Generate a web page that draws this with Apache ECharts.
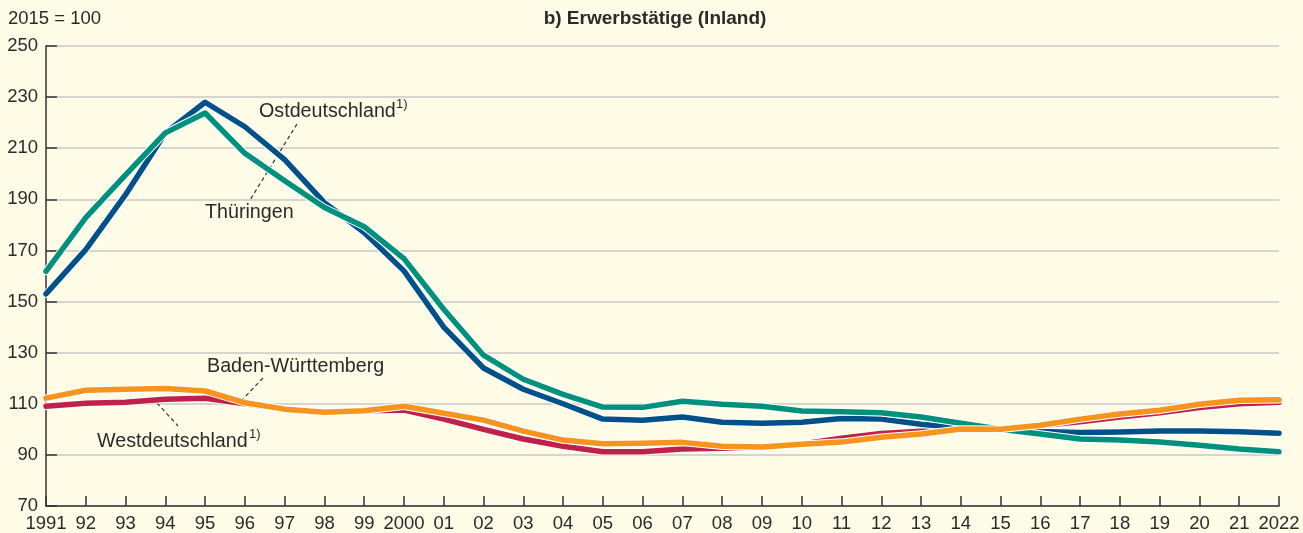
<!DOCTYPE html>
<html>
<head>
<meta charset="utf-8">
<script src="https://cdn.jsdelivr.net/npm/echarts@6/dist/echarts.min.js"></script>
<style>
html,body{margin:0;padding:0;background:#FEFCE7;}
#c{width:1303px;height:533px;}
</style>
</head>
<body>
<div id="c"></div>
<script>
const years = ['1991','92','93','94','95','96','97','98','99','2000','01','02','03','04','05','06','07','08','09','10','11','12','13','14','15','16','17','18','19','20','21','2022'];
const ostdeutschland = [153,170.3,191.8,216,228,218.4,205.5,188.7,177,162,140,124,115.7,110,104,103.6,104.8,102.8,102.4,102.8,104.2,104,102,100.5,100,99.2,98.8,99,99.3,99.3,99.1,98.5];
const thueringen = [161.8,182.8,199.6,216,223.8,208,197.3,186.8,179.3,166.8,147,129,119.6,113.7,108.7,108.6,111,109.8,109,107.2,106.9,106.5,104.8,102.4,100,98.2,96.2,95.8,95,93.8,92.3,91.2];
const badenWuerttemberg = [112.2,115.3,115.7,116,115,110.4,107.9,106.7,107.3,109,106.3,103.6,99.3,95.8,94.4,94.6,94.9,93.4,93.1,94.2,95,96.9,98.2,100.1,100,101.6,104,106,107.5,109.8,111.4,111.6];
const westdeutschland = [109,110.2,110.6,111.8,112.2,110,107.9,106.7,107.3,107.5,104,100,96.2,93.4,91.2,91.2,92.3,92.6,93.2,94.3,96.5,98.4,99.3,100.3,100,101.5,103,104.8,106.5,108.5,110,110.6];
const yTicks = {min:70, max:250, interval:20};

const chart = echarts.init(document.getElementById('c'), null, {renderer:'canvas'});
const FONT = 'Liberation Sans, Arial, sans-serif';
const TXT = '#2a2a2a';

function pair(name, data, color, order){
  return [
    {name:name+'_c', type:'line', data:data, symbol:'none', silent:true, z:2+order*2,
     lineStyle:{color:'#ffffff', width:7.5, cap:'round', join:'round'}},
    {name:name, type:'line', data:data, symbol:'none', silent:true, z:3+order*2,
     lineStyle:{color:color, width:5.5, cap:'round', join:'round'}}
  ];
}

const option = {
  backgroundColor:'#FEFCE7',
  animation:false,
  grid:{left:46, right:24, top:46, bottom:26, containLabel:false},
  xAxis:{
    type:'category', data:years, boundaryGap:false,
    axisLine:{lineStyle:{color:'#333', width:1.5}},
    axisTick:{inside:true, length:10, lineStyle:{color:'#333', width:1.5}},
    axisLabel:{fontFamily:FONT, fontSize:18.5, color:TXT, margin:8, interval:0},
    splitLine:{show:false}
  },
  yAxis:{
    type:'value', min:yTicks.min, max:yTicks.max, interval:yTicks.interval,
    axisLine:{show:true, lineStyle:{color:'#333', width:1.5}},
    axisTick:{show:true, inside:true, length:11, lineStyle:{color:'#333', width:1.5}},
    axisLabel:{fontFamily:FONT, fontSize:18.5, color:TXT, margin:8},
    splitLine:{show:true, lineStyle:{color:'#c9c9c9', width:1.5}}
  },
  series:[].concat(
    pair('Westdeutschland', westdeutschland, '#C0214B', 0),
    pair('Ostdeutschland', ostdeutschland, '#00508A', 1),
    pair('Thüringen', thueringen, '#00917C', 2),
    pair('Baden-Württemberg', badenWuerttemberg, '#F7941D', 3)
  ),
  graphic:[
    {type:'text', left:8, top:9, style:{text:'2015 = 100', font:'18.5px '+FONT, fill:TXT}},
    {type:'text', x:655, y:19, style:{text:'b) Erwerbstätige (Inland)', font:'bold 19px '+FONT, fill:TXT, textAlign:'center', textVerticalAlign:'middle'}},
    {type:'text', x:259, y:112, style:{text:'Ostdeutschland', font:'19.7px '+FONT, fill:TXT, textVerticalAlign:'middle'}},
    {type:'text', x:396, y:104, style:{text:'1)', font:'13px '+FONT, fill:TXT, textVerticalAlign:'middle'}},
    {type:'text', x:205, y:213, style:{text:'Thüringen', font:'19.7px '+FONT, fill:TXT, textVerticalAlign:'middle'}},
    {type:'text', x:207, y:367, style:{text:'Baden-Württemberg', font:'19.7px '+FONT, fill:TXT, textVerticalAlign:'middle'}},
    {type:'text', x:97, y:442, style:{text:'Westdeutschland', font:'19.7px '+FONT, fill:TXT, textVerticalAlign:'middle'}},
    {type:'text', x:249, y:434, style:{text:'1)', font:'13px '+FONT, fill:TXT, textVerticalAlign:'middle'}},
    {type:'line', z:1, shape:{x1:297, y1:124, x2:250, y2:200}, style:{stroke:'#333', lineWidth:1.2, lineDash:[4,3]}},
    {type:'line', z:1, shape:{x1:263, y1:378, x2:242, y2:400}, style:{stroke:'#333', lineWidth:1.2, lineDash:[4,3]}},
    {type:'line', z:1, shape:{x1:157, y1:403, x2:178, y2:426}, style:{stroke:'#333', lineWidth:1.2, lineDash:[4,3]}}
  ]
};
chart.setOption(option);
</script>
</body>
</html>
